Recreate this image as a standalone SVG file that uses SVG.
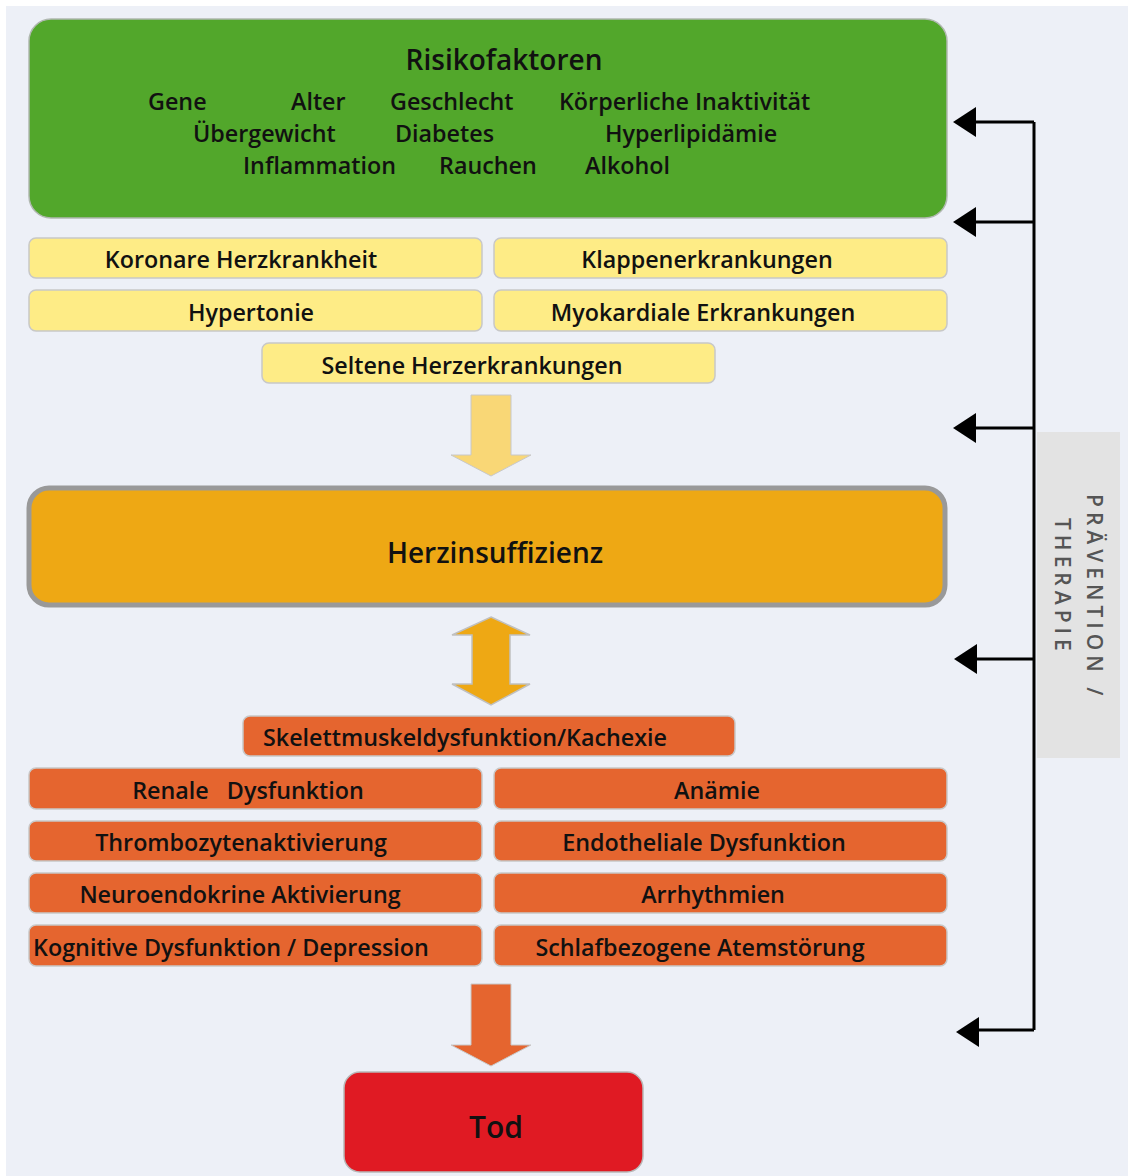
<svg xmlns="http://www.w3.org/2000/svg" width="1128" height="1176" viewBox="0 0 1128 1176">
<defs>
<style>
text{font-family:"Open Sans","Liberation Sans",sans-serif;font-weight:600;fill:#111}
.lbl{font-size:23.3px;text-anchor:middle}
.rf{font-size:23.3px}
.y{fill:#feec86;stroke:#c8c8c8;stroke-width:1.5}
.o{fill:#e5652f;stroke:#c8c8c8;stroke-width:1.5}
.conn{fill:none;stroke:#000;stroke-width:3}
.side{font-size:21px;fill:#555;font-weight:600;letter-spacing:5px}
</style>
</defs>
<rect x="0" y="0" width="1128" height="1176" fill="#ffffff"/>
<rect x="6" y="6" width="1122" height="1170" fill="#edf0f7"/>
<g id="side-label">
<rect x="1037" y="432" width="83" height="326" fill="#e3e3e3"/>
<text class="side" transform="translate(1087,494) rotate(90)">PRÄVENTION /</text>
<text class="side" transform="translate(1055,518) rotate(90)">THERAPIE</text>
</g>
<g id="risikofaktoren">
<rect x="29" y="19" width="918" height="199" rx="22" fill="#52a72b" stroke="#b0b8b0" stroke-width="1.5"/>
<text x="504" y="70" style="font-size:28px;text-anchor:middle">Risikofaktoren</text>
<text class="rf" x="148" y="110">Gene</text>
<text class="rf" x="291" y="110">Alter</text>
<text class="rf" x="390" y="110">Geschlecht</text>
<text class="rf" x="559" y="110">Körperliche Inaktivität</text>
<text class="rf" x="193" y="142">Übergewicht</text>
<text class="rf" x="395" y="142">Diabetes</text>
<text class="rf" x="605" y="142">Hyperlipidämie</text>
<text class="rf" x="243" y="174">Inflammation</text>
<text class="rf" x="439" y="174">Rauchen</text>
<text class="rf" x="585" y="174">Alkohol</text>
</g>
<g id="koronare"><rect class="y" x="29" y="238" width="453" height="40" rx="7"/><text class="lbl" x="241" y="268">Koronare Herzkrankheit</text></g>
<g id="klappen"><rect class="y" x="494" y="238" width="453" height="40" rx="7"/><text class="lbl" x="707" y="268">Klappenerkrankungen</text></g>
<g id="hypertonie"><rect class="y" x="29" y="290" width="453" height="41" rx="7"/><text class="lbl" x="251" y="321">Hypertonie</text></g>
<g id="myokardiale"><rect class="y" x="494" y="290" width="453" height="41" rx="7"/><text class="lbl" x="703" y="321">Myokardiale Erkrankungen</text></g>
<g id="seltene"><rect class="y" x="262" y="343" width="453" height="40" rx="7"/><text class="lbl" x="472" y="374">Seltene Herzerkrankungen</text></g>
<g id="herzinsuffizienz">
<rect x="29" y="488" width="916" height="117" rx="20" fill="#eea814" stroke="#999" stroke-width="5"/>
<text x="495" y="563" style="font-size:28px;text-anchor:middle">Herzinsuffizienz</text>
</g>
<g id="skelett"><rect class="o" x="243" y="716" width="492" height="40" rx="7"/><text class="lbl" x="465" y="746">Skelettmuskeldysfunktion/Kachexie</text></g>
<g id="renale"><rect class="o" x="29" y="768" width="453" height="41" rx="7"/><text class="lbl" x="248" y="799" xml:space="preserve">Renale   Dysfunktion</text></g>
<g id="anaemie"><rect class="o" x="494" y="768" width="453" height="41" rx="7"/><text class="lbl" x="717" y="799">Anämie</text></g>
<g id="thrombo"><rect class="o" x="29" y="821" width="453" height="40" rx="7"/><text class="lbl" x="241" y="851">Thrombozytenaktivierung</text></g>
<g id="endothel"><rect class="o" x="494" y="821" width="453" height="40" rx="7"/><text class="lbl" x="704" y="851">Endotheliale Dysfunktion</text></g>
<g id="neuro"><rect class="o" x="29" y="873" width="453" height="40" rx="7"/><text class="lbl" x="240" y="903">Neuroendokrine Aktivierung</text></g>
<g id="arrhythmien"><rect class="o" x="494" y="873" width="453" height="40" rx="7"/><text class="lbl" x="713" y="903">Arrhythmien</text></g>
<g id="kognitiv"><rect class="o" x="29" y="925" width="453" height="41" rx="7"/><text class="lbl" x="231" y="956">Kognitive Dysfunktion / Depression</text></g>
<g id="schlaf"><rect class="o" x="494" y="925" width="453" height="41" rx="7"/><text class="lbl" x="700" y="956">Schlafbezogene Atemstörung</text></g>
<g id="tod">
<rect x="344" y="1072" width="299" height="100" rx="16" fill="#e01a23" stroke="#b8b8b8" stroke-width="1.5"/>
<text x="496" y="1138" style="font-size:30px;text-anchor:middle">Tod</text>
</g>
<g id="connectors">
<path d="M471,395 H511 V455 H531 L491,476 L451,455 H471 Z" fill="#f9d776" stroke="#c8c8c8" stroke-width="1"/>
<path d="M491,617 L530,635 H510 V684 H530 L491,705 L452,684 H472 V635 H452 Z" fill="#eea814" stroke="#c0c0c0" stroke-width="1.5"/>
<path d="M471,984 H511 V1045 H531 L491,1066 L451,1045 H471 Z" fill="#e5652f" stroke="#c8c8c8" stroke-width="1"/>
<path class="conn" d="M1034,122 V1030"/>
<path class="conn" d="M1034,122 H975"/>
<path class="conn" d="M1034,222 H975"/>
<path class="conn" d="M1034,428 H975"/>
<path class="conn" d="M1034,659 H975"/>
<path class="conn" d="M1034,1030 H977"/>
<path d="M953,122 L976,107 L976,137 Z" fill="#000"/>
<path d="M953,222 L976,207 L976,237 Z" fill="#000"/>
<path d="M953,428 L976,413 L976,443 Z" fill="#000"/>
<path d="M954,659 L977,644 L977,674 Z" fill="#000"/>
<path d="M956,1032 L979,1017 L979,1047 Z" fill="#000"/>
</g>
</svg>
